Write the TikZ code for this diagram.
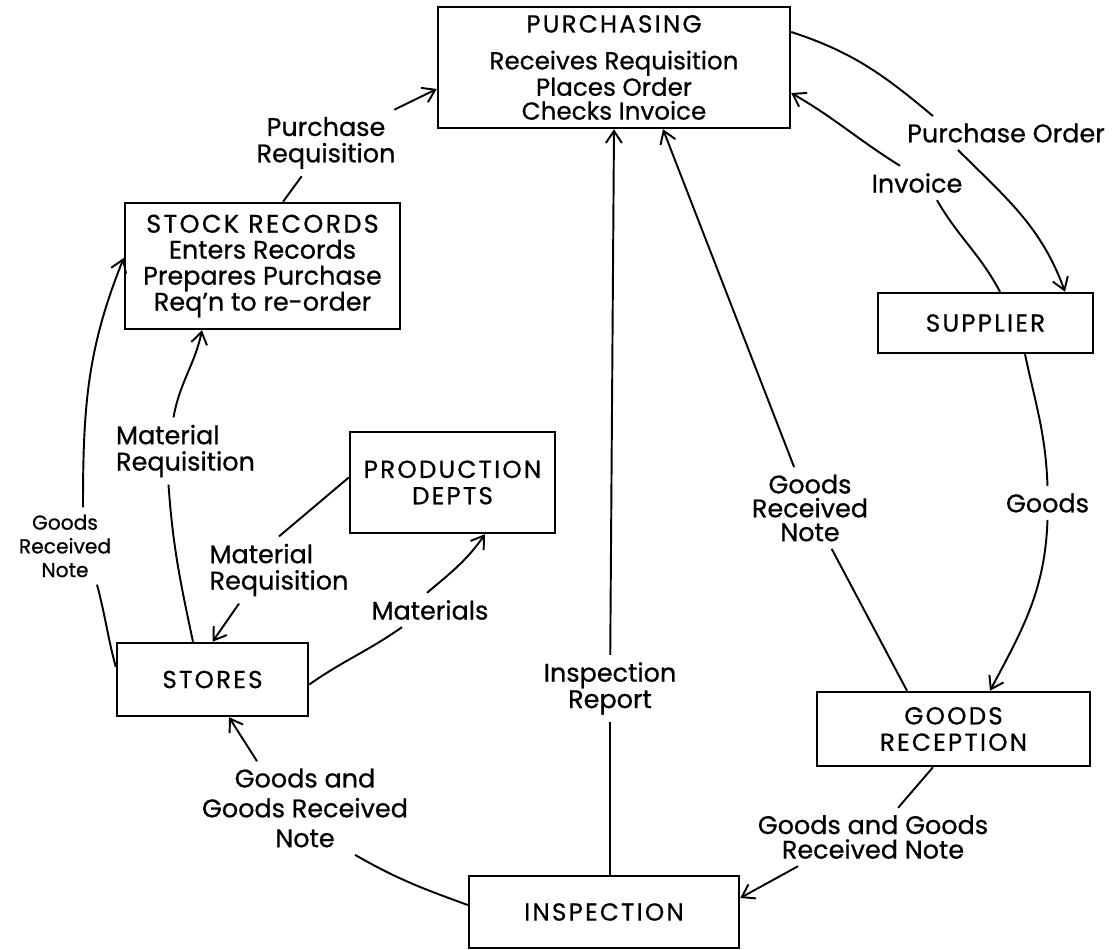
\documentclass[tikz,border=0pt]{standalone}
\usepackage{fontspec}
\setmainfont{Poppins}[FakeBold=0.7]
\usetikzlibrary{arrows.meta, positioning, calc}
\newcommand{\boxtitle}[1]{{\addfontfeatures{LetterSpace=9}#1}}

\begin{document}
\begin{tikzpicture}[
  box/.style={draw, line width=1.4pt, align=center, inner sep=3pt, font=\fontsize{14}{15}\selectfont},
  lbl/.style={align=center, inner sep=4pt, font=\fontsize{14.5}{15}\selectfont},
  flow/.style={line width=1.1pt},
  arr/.style={flow, -{Straight Barb[length=2.4mm, width=3.2mm]}}
]
  \useasboundingbox (0,0) rectangle (22.3,-19);

  % Departments
  \node[box, minimum width=7.04cm, minimum height=2.42cm, font=\fontsize{14}{13.6}\selectfont] (purch) at (12.28,-1.35) {\boxtitle{PURCHASING}\\[0.26cm] Receives Requisition\\ Places Order\\ Checks Invoice};
  \node[box, minimum width=5.5cm, minimum height=2.52cm, font=\fontsize{14.5}{14.8}\selectfont] (stock) at (5.25,-5.32) {\boxtitle{STOCK RECORDS}\\ Enters Records\\ Prepares Purchase\\ Req'n to re-order};
  \node[box, minimum width=4.1cm, minimum height=2.02cm] (prod) at (9.05,-9.65) {\boxtitle{PRODUCTION}\\ \boxtitle{DEPTS}};
  \node[box, minimum width=3.82cm, minimum height=1.46cm] (stores) at (4.25,-13.59) {\boxtitle{STORES}};
  \node[box, minimum width=5.4cm, minimum height=1.44cm] (insp) at (12.08,-18.24) {\boxtitle{INSPECTION}};
  \node[box, minimum width=5.46cm, minimum height=1.48cm] (grec) at (19.07,-14.58) {\boxtitle{GOODS}\\ \boxtitle{RECEPTION}};
  \node[box, minimum width=4.3cm, minimum height=1.2cm] (sup) at (19.71,-6.46) {\boxtitle{SUPPLIER}};

  % Flow labels
  \node[lbl] (preq) at (6.52,-2.86) {Purchase\\ Requisition};
  \node[lbl, align=left] (mreqa) at (3.71,-9.02) {Material\\ Requisition};
  \node[lbl, font=\fontsize{11.5}{13.5}\selectfont] (grnl) at (1.3,-10.92) {Goods\\ Received\\ Note};
  \node[lbl, align=left] (mreqb) at (5.58,-11.4) {Material\\ Requisition};
  \node[lbl] (mats) at (8.6,-12.2) {Materials};
  \node[lbl, font=\fontsize{14.5}{17}\selectfont] (gagl) at (6.1,-16.16) {Goods and\\ Goods Received\\ Note};
  \node[lbl] (irep) at (12.2,-13.77) {Inspection\\ Report};
  \node[lbl, font=\fontsize{14.5}{13.6}\selectfont] (grnr) at (16.2,-10.16) {Goods\\ Received\\ Note};
  \node[lbl] (goods) at (20.95,-10.06) {Goods};
  \node[lbl, font=\fontsize{14.5}{14}\selectfont] (gagr) at (17.46,-16.74) {Goods and Goods\\ Received Note};
  \node[lbl] (inv) at (18.34,-3.66) {Invoice};
  \node[lbl] (pord) at (20.12,-2.66) {Purchase Order};

  % Stock records to purchasing
  \draw[flow] ([xshift=0.41cm]stock.north) -- (preq);
  \draw[arr] (preq) -- ([yshift=-0.43cm]purch.west);
  % Stores to stock records
  \draw[flow] ([xshift=-0.39cm]stores.north) to[out=102,in=-86] ([xshift=-0.34cm]mreqa.south);
  \draw[arr] ([xshift=-0.24cm]mreqa.north) to[out=80,in=-102] ([xshift=-1.21cm]stock.south);
  \draw[flow] ([yshift=0.25cm]stores.west) to[out=105,in=-75] ([xshift=0.64cm]grnl.south);
  \draw[arr] ([xshift=0.36cm]grnl.north) to[out=90,in=-112] ([yshift=0.16cm]stock.west);
  % Production and stores
  \draw[flow] ([yshift=0.1cm]prod.west) -- (mreqb.north);
  \draw[arr] ([xshift=-0.8cm]mreqb.south) -- (stores.north);
  \draw[flow] ([yshift=-0.1cm]stores.east) to[out=35,in=-145] ([xshift=-0.56cm]mats.south);
  \draw[arr] ([xshift=-0.06cm]mats.north) to[out=40,in=-125] ([xshift=0.65cm]prod.south);
  % Inspection
  \draw[flow] ([yshift=0.14cm]insp.west) to[out=160,in=-30] ([xshift=1.0cm]gagl.south);
  \draw[arr] ([xshift=-0.96cm]gagl.north) -- ([xshift=0.33cm]stores.south);
  \draw[flow] ([xshift=0.12cm]insp.north) -- (irep);
  \draw[arr] (irep) -- (purch.south);
  % Goods reception
  \draw[flow] ([xshift=-0.93cm]grec.north) -- (grnr);
  \draw[arr] (grnr) -- ([xshift=0.98cm]purch.south);
  \draw[flow] ([xshift=-0.41cm]grec.south) -- (gagr);
  \draw[arr] ([xshift=-1.5cm]gagr.south) -- ([yshift=0.28cm]insp.east);
  % Supplier
  \draw[flow] ([xshift=0.79cm]sup.south) to[out=-78,in=92] (goods.north);
  \draw[arr] (goods.south) to[out=-92,in=62] ([xshift=0.73cm]grec.north);
  \draw[flow] ([yshift=0.71cm]purch.east) to[out=-18,in=140] ([xshift=-1.46cm]pord.north);
  \draw[arr] ([xshift=-0.96cm]pord.south) to[out=-45,in=110] ([xshift=1.59cm]sup.north);
  \draw[flow] ([xshift=0.29cm]sup.north) to[out=118,in=-60] ([xshift=0.4cm]inv.south);
  \draw[arr] ([xshift=-0.34cm]inv.north) to[out=148,in=-30] ([yshift=-0.51cm]purch.east);
\end{tikzpicture}
\end{document}
